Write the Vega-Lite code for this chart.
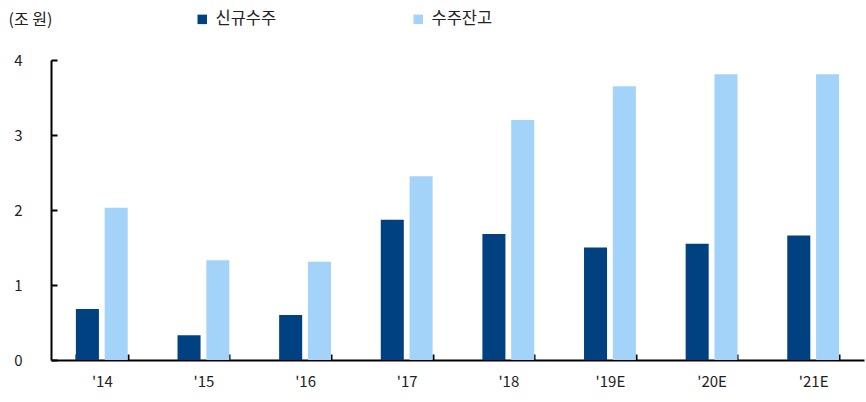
{
  "$schema": "https://vega.github.io/schema/vega-lite/v6.json",
  "autosize": "none",
  "width": 813,
  "height": 300,
  "padding": {"left": 51, "top": 60, "right": 2, "bottom": 42},
  "background": "white",
  "config": {
    "font": "Noto Sans CJK KR",
    "view": {"stroke": null}
  },
  "data": {
    "values": [
      {"year": "'14", "series": "신규수주", "value": 0.68},
      {"year": "'14", "series": "수주잔고", "value": 2.03},
      {"year": "'15", "series": "신규수주", "value": 0.33},
      {"year": "'15", "series": "수주잔고", "value": 1.33},
      {"year": "'16", "series": "신규수주", "value": 0.6},
      {"year": "'16", "series": "수주잔고", "value": 1.31},
      {"year": "'17", "series": "신규수주", "value": 1.87},
      {"year": "'17", "series": "수주잔고", "value": 2.45},
      {"year": "'18", "series": "신규수주", "value": 1.68},
      {"year": "'18", "series": "수주잔고", "value": 3.2},
      {"year": "'19E", "series": "신규수주", "value": 1.5},
      {"year": "'19E", "series": "수주잔고", "value": 3.65},
      {"year": "'20E", "series": "신규수주", "value": 1.55},
      {"year": "'20E", "series": "수주잔고", "value": 3.81},
      {"year": "'21E", "series": "신규수주", "value": 1.66},
      {"year": "'21E", "series": "수주잔고", "value": 3.81}
    ]
  },
  "mark": {"type": "bar"},
  "encoding": {
    "x": {
      "field": "year",
      "type": "nominal",
      "sort": null,
      "scale": {"paddingInner": 0.49, "paddingOuter": 0.245},
      "axis": {
        "title": null,
        "labelAngle": 0,
        "labelFontSize": 15,
        "labelColor": "#222222",
        "labelPadding": 20,
        "domainColor": "#000000",
        "domainWidth": 2,
        "tickColor": "#000000",
        "tickWidth": 2,
        "tickSize": -6,
        "tickBand": "extent"
      }
    },
    "xOffset": {
      "field": "series",
      "type": "nominal",
      "sort": ["신규수주", "수주잔고"],
      "scale": {"paddingInner": 0.2, "paddingOuter": 0}
    },
    "y": {
      "field": "value",
      "type": "quantitative",
      "scale": {"domain": [0, 4]},
      "axis": {
        "values": [0, 1, 2, 3, 4],
        "grid": false,
        "title": "(조 원)",
        "titleAngle": 0,
        "titleAlign": "left",
        "titleBaseline": "middle",
        "titleX": -43,
        "titleY": -41,
        "titleFontSize": 16,
        "titleFontWeight": "normal",
        "titleColor": "#222222",
        "labelFontSize": 15,
        "labelColor": "#222222",
        "labelPadding": 35,
        "domainColor": "#000000",
        "domainWidth": 2,
        "tickColor": "#000000",
        "tickWidth": 2,
        "tickSize": -6
      }
    },
    "color": {
      "field": "series",
      "type": "nominal",
      "scale": {"domain": ["신규수주", "수주잔고"], "range": ["#004181", "#A3D3F8"]},
      "legend": {
        "title": null,
        "orient": "none",
        "direction": "horizontal",
        "legendX": 143,
        "legendY": -49,
        "symbolType": "square",
        "symbolSize": 90,
        "symbolStrokeWidth": 0,
        "labelFontSize": 16.5,
        "labelColor": "#222222",
        "labelOffset": 5,
        "columnPadding": 133,
        "labelLimit": 200
      }
    }
  }
}
